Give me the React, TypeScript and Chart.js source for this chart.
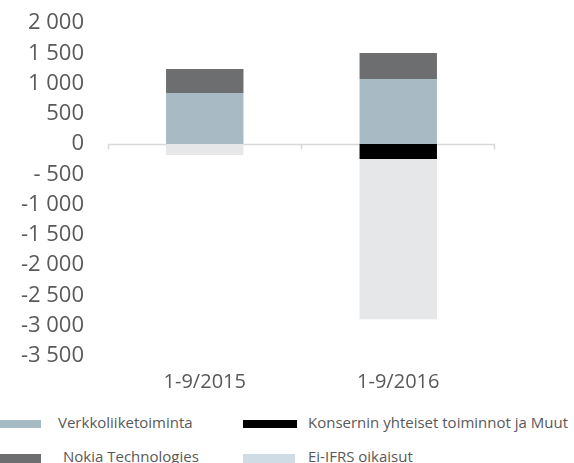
import React, { useEffect, useRef } from "react";
import { Chart, registerables } from "chart.js";

Chart.register(...registerables);

const categories = ["1-9/2015", "1-9/2016"];
const verkko = [843, 1074];
const nokiaTech = [397, 430];
const konserni = [0, -248];
const eiIfrs = [-182, -2645];

const seriesNames = [
  "Verkkoliiketoiminta",
  "Nokia Technologies",
  "Konsernin yhteiset toiminnot ja Muut",
  "Ei-IFRS oikaisut",
];

const FONT = "'Open Sans', 'Noto Sans', sans-serif";
const TEXT = "#595959";

function fmt(v: number): string {
  const a = Math.abs(v);
  const s = a >= 1000 ? Math.floor(a / 1000) + " " + String(a % 1000).padStart(3, "0") : String(a);
  if (v < 0) return a < 1000 ? "- " + s : "-" + s;
  return s;
}

const zeroAxis = {
  id: "zeroAxis",
  beforeDatasetsDraw(chart: any) {
    const { ctx, chartArea, scales } = chart;
    const y = Math.round(scales.y.getPixelForValue(0)) + 0.5;
    ctx.save();
    ctx.strokeStyle = "#d9d9d9";
    ctx.lineWidth = 1.5;
    ctx.beginPath();
    ctx.moveTo(chartArea.left, y);
    ctx.lineTo(chartArea.right, y);
    const mid = (chartArea.left + chartArea.right) / 2;
    [chartArea.left + 0.5, mid, chartArea.right - 0.5].forEach((x) => {
      ctx.moveTo(x, y);
      ctx.lineTo(x, y + 5);
    });
    ctx.stroke();
    ctx.restore();
  },
};

export default function App() {
  const ref = useRef<HTMLCanvasElement>(null);
  useEffect(() => {
    document.body.style.margin = "0";
    const chart = new Chart(ref.current!, {
      type: "bar",
      data: {
        labels: categories,
        datasets: [
          { label: seriesNames[0], data: verkko, backgroundColor: "#A8BAC4" },
          { label: seriesNames[1], data: nokiaTech, backgroundColor: "#6D6E70" },
          { label: seriesNames[2], data: konserni, backgroundColor: "#000000" },
          { label: seriesNames[3], data: eiIfrs, backgroundColor: "#E6E7E8" },
        ],
      },
      options: {
        responsive: false,
        animation: false,
        layout: { padding: { top: 23, right: 79, left: 0, bottom: 0 } },
        datasets: { bar: { barPercentage: 0.4, categoryPercentage: 1 } },
        plugins: { legend: { display: false }, tooltip: { enabled: false } },
        scales: {
          x: {
            stacked: true,
            grid: { display: false, drawTicks: false },
            border: { display: false },
            ticks: { color: TEXT, font: { family: FONT, size: 20 }, padding: 14, maxRotation: 0 },
            afterFit: (s: any) => {
              s.height = 44;
            },
          },
          y: {
            stacked: true,
            min: -3500,
            max: 2000,
            grid: { display: false, drawTicks: false },
            border: { display: false },
            ticks: {
              stepSize: 500,
              autoSkip: false,
              color: TEXT,
              font: { family: FONT, size: 22 },
              padding: 24,
              callback: (v: any) => fmt(Number(v)),
            },
            afterFit: (s: any) => {
              s.width = 108;
              s.paddingTop = 0;
              s.paddingBottom = 0;
            },
          },
        },
      },
      plugins: [zeroAxis],
    });
    return () => chart.destroy();
  }, []);

  const legendItem = (x: number, y: number, sw: number, sh: number, color: string, text: string, tx: number) => (
    <div style={{ position: "absolute", left: x, top: y, height: 20, width: 340 }}>
      <div style={{ position: "absolute", left: 0, top: 10 - sh / 2 + 2, width: sw, height: sh, background: color }} />
      <div
        style={{
          position: "absolute",
          left: tx,
          top: 0,
          fontFamily: FONT,
          fontSize: 15,
          color: TEXT,
          whiteSpace: "nowrap",
          lineHeight: "20px",
        }}
      >
        {text}
      </div>
    </div>
  );

  return (
    <div style={{ position: "relative", width: 574, height: 463, overflow: "hidden" }}>
      <canvas ref={ref} width={574} height={400} style={{ position: "absolute", left: 0, top: 0 }} />
      {legendItem(0, 412, 41, 8, "#A8BAC4", seriesNames[0], 58)}
      {legendItem(243, 412, 54, 8, "#000000", seriesNames[2], 65)}
      {legendItem(0, 446, 41, 9, "#6D6E70", seriesNames[1], 63)}
      {legendItem(243, 446, 52, 9, "#CFDBE5", seriesNames[3], 65)}
    </div>
  );
}
